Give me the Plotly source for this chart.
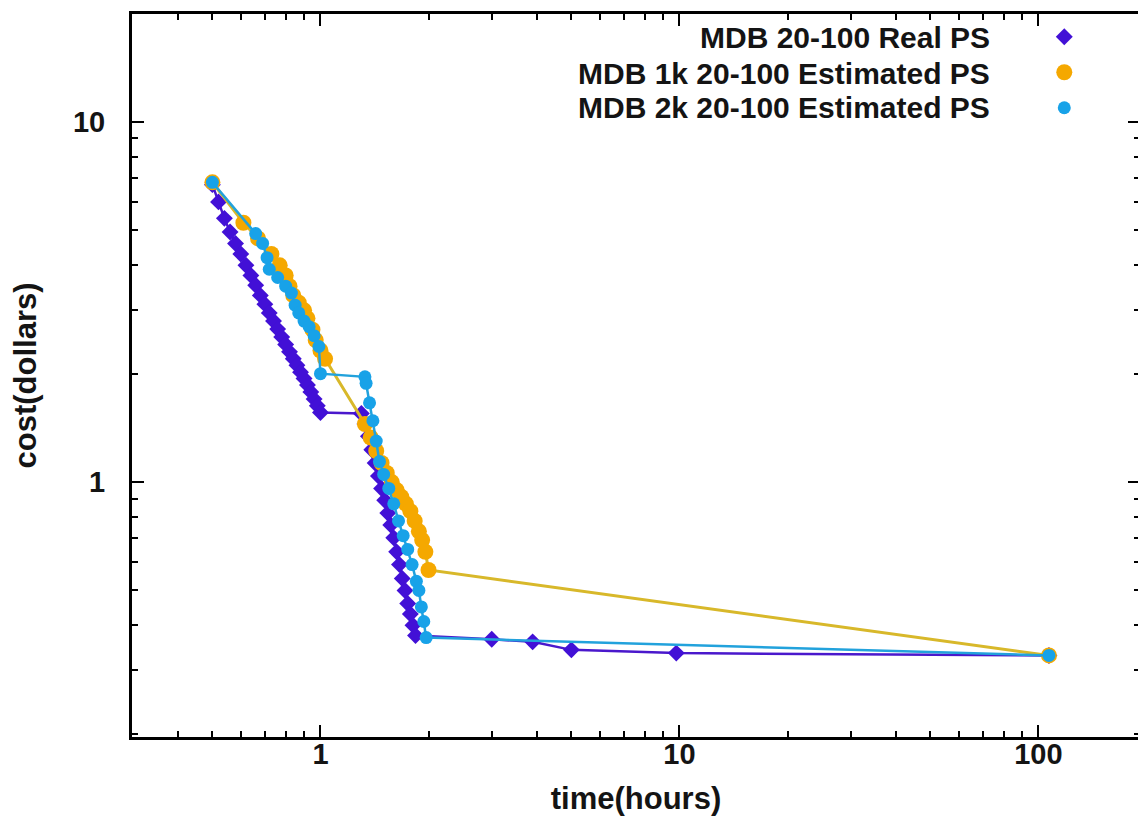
import plotly.graph_objects as go

# ---- data ----
real_time = [0.50, 0.52, 0.54, 0.56, 0.58, 0.60, 0.62, 0.64, 0.66, 0.68, 0.70, 0.72, 0.74,
             0.76, 0.78, 0.80, 0.82, 0.84, 0.86, 0.88, 0.90, 0.92, 0.94, 0.96, 0.98, 1.00,
             1.30, 1.33, 1.36, 1.39, 1.42, 1.45, 1.48, 1.51, 1.54, 1.57, 1.60, 1.63, 1.66,
             1.69, 1.72, 1.75, 1.78, 1.81, 1.84,
             3.0, 3.9, 5.0, 9.8, 107]
real_cost = [6.7, 6.0, 5.4, 4.95, 4.6, 4.3, 4.0, 3.75, 3.52, 3.3, 3.12, 2.95, 2.8,
             2.66, 2.53, 2.41, 2.3, 2.2, 2.11, 2.02, 1.94, 1.86, 1.78, 1.70, 1.63, 1.56,
             1.55, 1.45, 1.34, 1.23, 1.13, 1.04, 0.96, 0.89, 0.82, 0.76, 0.70, 0.64, 0.59,
             0.54, 0.50, 0.46, 0.43, 0.40, 0.375,
             0.366, 0.36, 0.342, 0.335, 0.33]

est1k_time = [0.50, 0.61, 0.67, 0.73, 0.77, 0.80, 0.82, 0.84, 0.87, 0.90, 0.92, 0.95, 0.97,
              1.00, 1.03,
              1.33, 1.38, 1.43, 1.48, 1.53, 1.58, 1.63, 1.68, 1.73, 1.78, 1.83, 1.88, 1.92,
              1.96, 2.00, 107]
est1k_cost = [6.8, 5.25, 4.75, 4.3, 4.0, 3.75, 3.5, 3.3, 3.15, 3.0, 2.85, 2.65, 2.48,
              2.32, 2.2,
              1.45, 1.33, 1.22, 1.13, 1.06, 1.0, 0.95, 0.91, 0.87, 0.83, 0.78, 0.73, 0.69,
              0.64, 0.57, 0.33]

est2k_time = [0.50, 0.66, 0.69, 0.71, 0.72, 0.76, 0.80, 0.83, 0.85, 0.87, 0.90, 0.93, 0.96,
              0.99, 1.00,
              1.33, 1.34, 1.37, 1.40, 1.43, 1.46, 1.50, 1.55, 1.60, 1.65, 1.70, 1.75, 1.80,
              1.85, 1.88, 1.91, 1.94, 1.97, 107]
est2k_cost = [6.8, 4.9, 4.6, 4.2, 3.9, 3.7, 3.5, 3.35, 3.1, 2.95, 2.8, 2.7, 2.55,
              2.38, 2.0,
              1.96, 1.88, 1.66, 1.48, 1.30, 1.14, 1.05, 0.96, 0.87, 0.78, 0.71, 0.65, 0.59,
              0.53, 0.50, 0.45, 0.41, 0.37, 0.33]

series_names = ["MDB 20-100 Real PS", "MDB 1k 20-100 Estimated PS", "MDB 2k 20-100 Estimated PS"]

x_ticks = [1, 10, 100]
y_ticks = [1, 10]

# ---- figure (page body adds an 8px offset, so the figure is laid out 8px up/left) ----
W, H = 1138, 809
ML, MR, MT, MB = 124, 3, 6, 80
plot_w = W - ML - MR
plot_h = H - MT - MB

styles = [
    dict(x=real_time, y=real_cost, line="#4a18cc", lw=2.5, mc="#4210d6", sym="diamond", ms=13),
    dict(x=est1k_time, y=est1k_cost, line="#d8b82a", lw=3, mc="#f5a800", sym="circle", ms=16),
    dict(x=est2k_time, y=est2k_cost, line="#22a2dc", lw=2.5, mc="#18a2e8", sym="circle", ms=13),
]

fig = go.Figure()
for name, s in zip(series_names, styles):
    fig.add_trace(go.Scatter(x=s["x"], y=s["y"], mode="lines", name=name,
                             line=dict(color=s["line"], width=s["lw"]),
                             showlegend=False, hoverinfo="skip"))
    fig.add_trace(go.Scatter(x=s["x"], y=s["y"], mode="markers", name=" ",
                             marker=dict(color=s["mc"], symbol=s["sym"], size=s["ms"],
                                         line=dict(width=0)),
                             showlegend=True, hovertext=name))

font_family = "Liberation Sans, Arial, sans-serif"
txt_col = "#141414"
axis_common = dict(
    type="log", showline=True, linecolor="black", linewidth=3, mirror="ticks",
    ticks="inside", ticklen=12, tickwidth=2, tickcolor="black",
    showgrid=False, zeroline=False,
    tickfont=dict(family=font_family, size=29, color=txt_col, weight="bold"),
    minor=dict(ticks="inside", ticklen=6, tickwidth=2, tickcolor="black", dtick="D1", showgrid=False),
)

fig.update_layout(
    width=W, height=H,
    margin=dict(l=ML, r=MR, t=MT, b=MB),
    paper_bgcolor="white", plot_bgcolor="white",
    font=dict(family=font_family, color=txt_col),
    xaxis=dict(axis_common, range=[-0.525, 2.283], tickvals=x_ticks,
               ticktext=[str(v) for v in x_ticks], ticklabelstandoff=-11,
               title=dict(text="time(hours)", font=dict(size=31, weight="bold"), standoff=19)),
    yaxis=dict(axis_common, range=[-0.708, 1.30], tickvals=y_ticks,
               ticktext=[str(v) for v in y_ticks], ticklabelstandoff=18,
               title=dict(text="cost(dollars)", font=dict(size=31, weight="bold"), standoff=32)),
    legend=dict(x=(1039 - ML) / plot_w, y=1.0, xanchor="left", yanchor="top",
                bgcolor="rgba(0,0,0,0)", font=dict(size=25), itemsizing="trace"),
    showlegend=True,
)

row_px = [30, 65, 100]
for name, py in zip(series_names, row_px):
    fig.add_annotation(xref="paper", yref="paper", x=(987 - ML) / plot_w,
                       y=1 - (py - MT) / plot_h, text=name, showarrow=False,
                       xanchor="right", yanchor="middle",
                       font=dict(family=font_family, size=30, color=txt_col, weight="bold"))

fig.write_html("out.html")
